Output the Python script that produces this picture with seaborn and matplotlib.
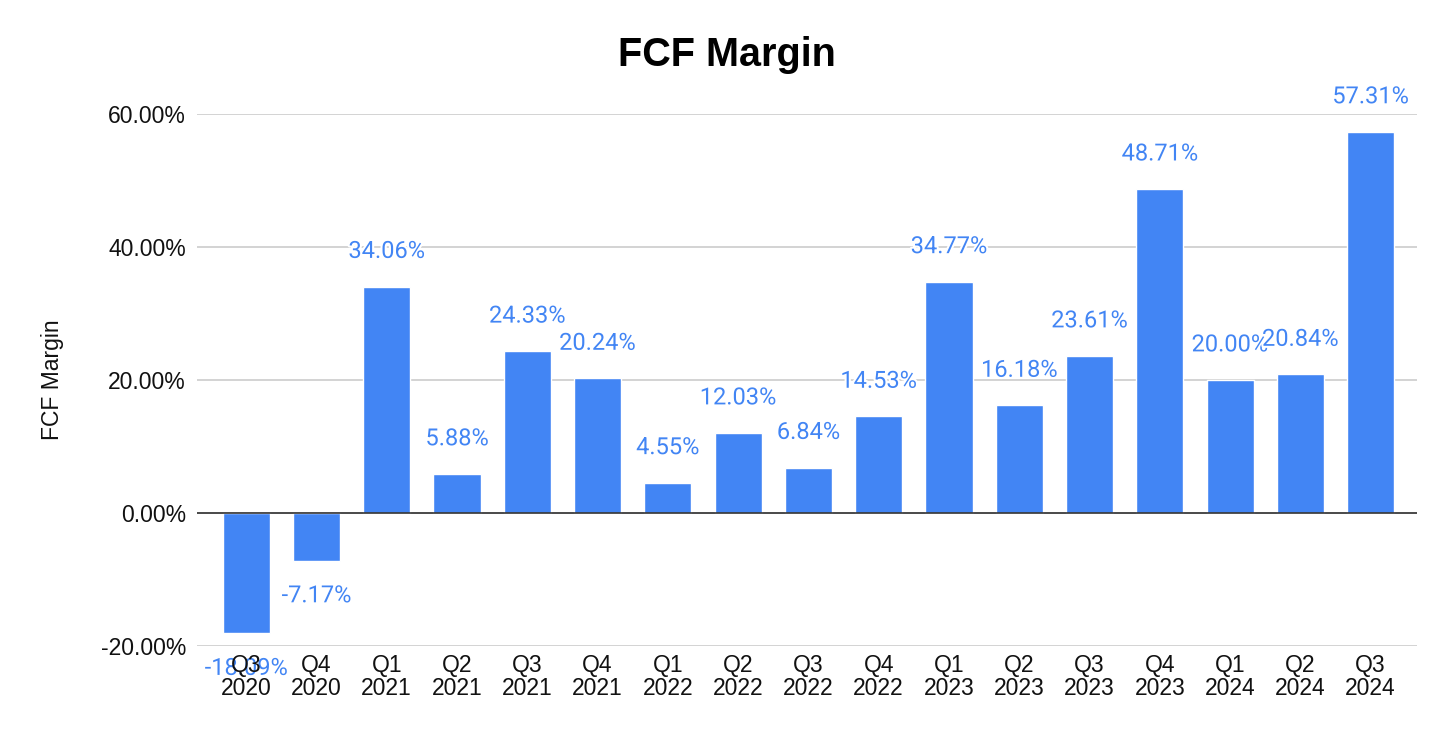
import matplotlib
matplotlib.use("Agg")
import matplotlib.pyplot as plt
import matplotlib.patheffects as pe
import numpy as np
import pandas as pd
import seaborn as sns

quarters = ["Q3\n2020", "Q4\n2020", "Q1\n2021", "Q2\n2021", "Q3\n2021", "Q4\n2021",
            "Q1\n2022", "Q2\n2022", "Q3\n2022", "Q4\n2022", "Q1\n2023", "Q2\n2023",
            "Q3\n2023", "Q4\n2023", "Q1\n2024", "Q2\n2024", "Q3\n2024"]
fcf_margin = [-18.09, -7.17, 34.06, 5.88, 24.33, 20.24, 4.55, 12.03, 6.84, 14.53,
              34.77, 16.18, 23.61, 48.71, 20.00, 20.84, 57.31]
yticks = [-20, 0, 20, 40, 60]

df = pd.DataFrame({"quarter": quarters, "margin": fcf_margin})

sns.set_style("white")
plt.rcParams["font.family"] = ["Liberation Sans", "DejaVu Sans"]

blue = "#4285F4"
fig = plt.figure(figsize=(14.54, 7.42), dpi=100)
ax = fig.add_axes([197 / 1454, 1 - 646 / 742, 1220 / 1454, 532 / 742])

sns.barplot(data=df, x="quarter", y="margin", color=blue, saturation=1,
            width=0.67, ax=ax)

ax.set_ylim(-20, 60)
ax.set_xlim(-0.7, len(quarters) - 0.34)
ax.set_yticks(yticks)
ax.set_yticklabels([f"{v:.2f}%" for v in yticks])
ax.grid(axis="y", color="#cccccc", linewidth=1.2)
ax.set_axisbelow(True)
# x tick labels sit on top of the value labels, like the original
ax.xaxis.set_zorder(5)
ax.axhline(0, color="#333333", linewidth=1.2, zorder=3)
for s in ax.spines.values():
    s.set_visible(False)
ax.tick_params(axis="both", length=0, labelsize=16.5, colors="#111111")
ax.tick_params(axis="x", pad=6)
ax.tick_params(axis="y", pad=8)
for t in ax.get_xticklabels():
    t.set_linespacing(1.0)

labels = ax.bar_label(ax.containers[0], labels=[f"{v:.2f}%" for v in fcf_margin],
                      padding=17, color=blue, fontsize=17, clip_on=False,
                      family=["Roboto", "DejaVu Sans"])
for t in labels:
    t.set_path_effects([pe.withStroke(linewidth=3, foreground="white")])

ax.set_xlabel("")
ax.set_ylabel("FCF Margin", fontsize=16.5, color="#111111", labelpad=26)
fig.suptitle("FCF Margin", fontsize=28.5, fontweight="bold", color="black",
             y=1 - 55 / 742, va="center")

fig.savefig("out.png", dpi=100)
